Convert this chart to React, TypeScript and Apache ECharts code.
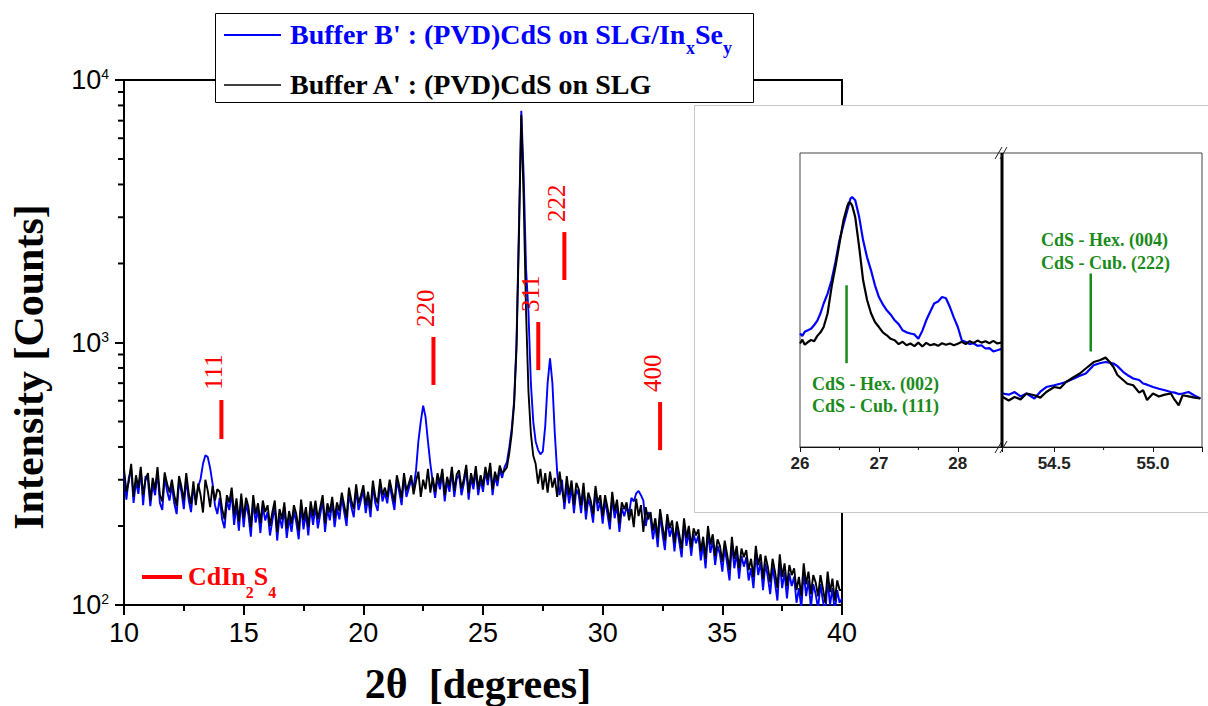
import React, { useEffect, useRef } from 'react';
import * as echarts from 'echarts';

// ---------- main pattern: 2θ from 10.0° to 40.0° every 0.1° ----------
const twoThetaStart = 10;
const twoThetaStep = 0.1;

// Buffer B' : (PVD)CdS on SLG/InxSey  (counts)
const bufferBCounts = [
  318, 252, 305, 330, 245, 296, 265, 325, 240, 310,
  300, 238, 288, 262, 322, 245, 230, 306, 272, 250,
  285, 244, 222, 296, 270, 232, 305, 252, 226, 280,
  250, 282, 302, 345, 372, 366, 332, 290, 240, 222,
  256, 212, 196, 250, 230, 268, 202, 240, 192, 252,
  198, 244, 220, 182, 250, 206, 232, 188, 238, 210,
  226, 184, 210, 238, 176, 218, 196, 234, 180, 214,
  190, 228, 206, 178, 240, 194, 224, 184, 236, 202,
  238, 196, 222, 250, 190, 232, 210, 246, 198, 234,
  212, 256, 226, 200, 268, 236, 216, 276, 230, 250,
  274, 224, 256, 216, 286, 244, 228, 290, 248, 268,
  244, 288, 256, 230, 300, 270, 240, 306, 258, 278,
  300, 280, 325, 420, 500, 575, 520, 420, 345, 295,
  256, 306, 276, 318, 248, 296, 270, 324, 258, 302,
  314, 262, 290, 330, 252, 306, 276, 326, 262, 300,
  270, 324, 286, 336, 262, 310, 284, 328, 305, 335,
  350, 400, 470, 600, 1000, 2700, 7640, 4300, 1900, 1300,
  700, 500, 420, 390, 375, 385, 480, 700, 870, 700,
  450, 320, 262, 300, 232, 286, 244, 282, 224, 276,
  262, 224, 280, 212, 254, 236, 206, 272, 228, 248,
  204, 250, 222, 194, 258, 214, 240, 190, 234, 218,
  236, 222, 256, 248, 266, 272, 262, 250, 200, 226,
  214, 178, 202, 166, 222, 186, 162, 212, 182, 198,
  160, 198, 174, 152, 204, 168, 190, 154, 186, 172,
  184, 148, 170, 138, 190, 158, 176, 142, 168, 156,
  134, 166, 144, 124, 172, 138, 158, 126, 154, 140,
  152, 124, 138, 116, 158, 130, 146, 114, 144, 128,
  110, 140, 122, 104, 146, 116, 134, 106, 132, 118,
  128, 102, 116, 97, 134, 108, 124, 98, 120, 110,
  97, 120, 104, 92, 124, 100, 116, 94, 114, 102,
  106,
];

// Buffer A' : (PVD)CdS on SLG  (counts)
const bufferACounts = [
  330, 270, 295, 345, 258, 312, 280, 336, 262, 300,
  318, 250, 305, 275, 335, 262, 248, 320, 290, 268,
  300, 262, 238, 310, 282, 250, 318, 268, 242, 296,
  240, 290, 262, 225, 300, 272, 236, 284, 250, 276,
  270, 232, 212, 262, 246, 280, 220, 255, 208, 266,
  214, 256, 236, 198, 262, 222, 244, 205, 250, 226,
  240, 200, 226, 250, 190, 232, 212, 246, 196, 228,
  204, 240, 222, 192, 252, 210, 236, 198, 248, 218,
  250, 212, 236, 262, 205, 244, 225, 258, 214, 246,
  228, 268, 240, 215, 280, 250, 232, 288, 244, 262,
  286, 240, 270, 232, 298, 258, 244, 302, 262, 280,
  258, 300, 270, 246, 312, 284, 256, 318, 272, 290,
  312, 264, 296, 322, 258, 300, 276, 330, 268, 306,
  270, 318, 290, 330, 262, 308, 284, 336, 272, 314,
  326, 278, 302, 342, 268, 318, 290, 338, 276, 312,
  284, 336, 300, 348, 276, 322, 298, 340, 318, 325,
  335, 380, 450, 580, 950, 2500, 7350, 3500, 1300, 650,
  450, 370, 345, 290, 330, 275, 318, 268, 322, 280,
  305, 258, 322, 276, 246, 310, 262, 298, 240, 292,
  276, 240, 292, 228, 268, 250, 222, 284, 244, 262,
  218, 262, 236, 208, 270, 228, 252, 204, 246, 232,
  246, 210, 232, 198, 254, 218, 240, 190, 236, 212,
  226, 192, 214, 180, 232, 200, 176, 222, 196, 210,
  172, 208, 186, 164, 214, 180, 200, 166, 196, 184,
  194, 160, 182, 150, 200, 170, 186, 154, 178, 168,
  146, 176, 156, 136, 182, 150, 168, 138, 164, 152,
  162, 136, 150, 128, 168, 142, 156, 126, 154, 140,
  122, 150, 134, 116, 156, 128, 144, 118, 142, 130,
  138, 114, 128, 108, 144, 120, 134, 110, 130, 122,
  108, 130, 116, 102, 134, 112, 126, 104, 124, 114,
  114,
];

// CdIn2S4 reference reflections
const cdIn2S4Angles = [14.07, 22.93, 27.31, 28.4, 32.4];
const cdIn2S4Hkl = ['111', '220', '311', '222', '400'];
const cdIn2S4MarkLow = [429, 689, 785, 1730, 389];
const cdIn2S4MarkHigh = [604, 1050, 1197, 2635, 593];

// log-axis minor tick values
const logMinorTicks = [200, 300, 400, 500, 600, 700, 800, 900, 2000, 3000, 4000, 5000, 6000, 7000, 8000, 9000];

// ---------- inset (relative intensity, arbitrary units 0–100) ----------
const insetLeftAngles = [
  26.0, 26.03, 26.06, 26.1, 26.14, 26.18, 26.22, 26.26, 26.3, 26.35,
  26.4, 26.45, 26.5, 26.55, 26.6, 26.62, 26.64, 26.66, 26.7, 26.75,
  26.8, 26.85, 26.9, 26.95, 27.0, 27.05, 27.1, 27.15, 27.2, 27.25,
  27.3, 27.35, 27.4, 27.45, 27.5, 27.55, 27.6, 27.65, 27.7, 27.75,
  27.8, 27.85, 27.9, 27.95, 28.0, 28.05, 28.1, 28.15, 28.2, 28.25,
  28.3, 28.35, 28.4, 28.45, 28.5, 28.56,
];
const insetLeftA = [
  35.2, 36.5, 34.8, 35.7, 36.4, 36.0, 37.8, 39.0, 40.8, 45.5,
  54.4, 61.5, 69.2, 77.0, 82.0, 83.3, 83.0, 82.2, 78.2, 68.0,
  56.7, 50.0, 45.5, 42.5, 40.8, 39.0, 38.0, 36.8, 36.3, 35.0,
  35.8, 34.6, 35.2, 34.3, 35.5, 34.2, 35.4, 34.6, 35.0, 34.4,
  35.3, 34.8, 35.2, 34.6, 35.1, 35.8, 35.0, 36.0, 35.4, 36.2,
  35.5, 36.0, 35.3, 36.1, 35.2, 35.6,
];
const insetLeftB = [
  38.6, 37.8, 39.2, 39.7, 40.2, 41.5, 43.0, 45.5, 48.8, 52.2,
  56.7, 63.0, 70.3, 75.5, 80.5, 82.5, 84.5, 85.0, 83.9, 78.2,
  70.3, 64.5, 60.1, 55.0, 51.0, 48.5, 46.5, 45.0, 43.1, 41.8,
  39.7, 39.0, 38.6, 38.3, 36.8, 39.5, 43.1, 46.0, 48.8, 49.5,
  51.0, 50.6, 47.6, 44.0, 40.8, 36.3, 35.7, 35.0, 35.3, 34.4,
  34.6, 33.5, 33.6, 32.5, 32.9, 33.4,
];
const insetRightAngles = [
  54.24, 54.27, 54.3, 54.33, 54.36, 54.4, 54.43, 54.46, 54.5, 54.53,
  54.56, 54.6, 54.63, 54.66, 54.7, 54.73, 54.76, 54.78, 54.8, 54.82,
  54.85, 54.87, 54.9, 54.93, 54.95, 54.97, 55.0, 55.03, 55.06, 55.09,
  55.11, 55.13, 55.15, 55.18, 55.21, 55.24,
];
const insetRightA = [
  17.0, 15.8, 17.0, 16.2, 18.2, 17.6, 16.8, 18.7, 20.4, 20.0,
  22.1, 23.8, 25.0, 26.7, 28.9, 29.5, 30.4, 29.0, 27.2, 24.5,
  22.7, 21.5, 21.0, 18.5, 19.3, 16.0, 18.2, 17.2, 17.8, 18.2,
  16.0, 14.2, 17.6, 17.2, 16.8, 16.5,
];
const insetRightB = [
  18.2, 17.8, 18.7, 17.2, 18.2, 16.5, 18.8, 20.4, 21.0, 21.5,
  22.1, 23.3, 24.2, 25.0, 27.8, 28.5, 28.9, 28.7, 28.4, 27.5,
  25.5, 24.5, 23.3, 22.8, 21.6, 21.2, 20.4, 19.8, 19.3, 18.7,
  18.5, 18.0, 18.2, 18.7, 17.5, 16.5,
];
const cdsHexCubLeft = [26.59, 28.5, 55];   // angle, low, high
const cdsHexCubRight = [54.685, 32.5, 59];
const insetLeftMinor = [26.5, 27.5];
const insetRightMinor = [54.75];

const SERIF = '"Liberation Serif", "Times New Roman", serif';
const SANS = '"Liberation Sans", Arial, sans-serif';
const GREEN = '#1a8a1a';

export default function App() {
  const ref = useRef<HTMLDivElement>(null);

  useEffect(() => {
    const chart = echarts.init(ref.current!, null, { renderer: 'svg' });

    const angles = bufferACounts.map((_, i) => +(twoThetaStart + i * twoThetaStep).toFixed(1));
    const dataB = angles.map((x, i) => [x, bufferBCounts[i]]);
    const dataA = angles.map((x, i) => [x, bufferACounts[i]]);

    const insetAxisCommon = {
      type: 'value',
      z: 22,
      axisLine: { show: true, lineStyle: { color: '#111', width: 1.2 } },
      axisTick: { show: true, length: 5, lineStyle: { color: '#111', width: 1 } },
      splitLine: { show: false },
    };

    const greenMark = (params: any, api: any) => {
      const a = api.coord([api.value(0), api.value(1)]);
      const b = api.coord([api.value(0), api.value(2)]);
      return {
        type: 'line',
        shape: { x1: a[0], y1: a[1], x2: b[0], y2: b[1] },
        style: { stroke: GREEN, lineWidth: 2.5 },
      };
    };
    const insetMinor = (params: any, api: any) => {
      const p = api.coord([api.value(0), 0]);
      return {
        type: 'line',
        shape: { x1: p[0], y1: p[1], x2: p[0], y2: p[1] + 3 },
        style: { stroke: '#111', lineWidth: 1 },
      };
    };

    const option: any = {
      animation: false,
      grid: [
        { left: 124, top: 80, width: 718, height: 525, show: true, borderColor: '#000', borderWidth: 2, containLabel: false },
        { left: 800, top: 153, width: 202, height: 294, show: true, borderColor: '#444', borderWidth: 1, z: 21 },
        { left: 1002, top: 153, width: 200, height: 294, show: true, borderColor: '#444', borderWidth: 1, z: 21 },
      ],
      xAxis: [
        {
          gridIndex: 0,
          type: 'value',
          min: 10,
          max: 40,
          interval: 5,
          axisLine: { show: true, lineStyle: { color: '#000', width: 2 } },
          axisTick: { show: true, length: 10, lineStyle: { color: '#000', width: 2 } },
          minorTick: { show: true, splitNumber: 2, length: 6, lineStyle: { color: '#000', width: 2 } },
          axisLabel: { fontSize: 27, fontFamily: SANS, color: '#000', margin: 14 },
          splitLine: { show: false },
        },
        {
          ...insetAxisCommon,
          gridIndex: 1,
          min: 26,
          max: 28.56,
          splitNumber: 3,
          axisLabel: {
            fontSize: 17,
            fontWeight: 'bold',
            fontFamily: SANS,
            color: '#222',
            margin: 8,
            showMaxLabel: false,
            formatter: (v: number) => (Math.abs(v - Math.round(v)) < 1e-6 ? String(Math.round(v)) : ''),
          },
        },
        {
          ...insetAxisCommon,
          gridIndex: 2,
          min: 54.236,
          max: 55.248,
          splitNumber: 2,
          axisLabel: {
            fontSize: 17,
            fontWeight: 'bold',
            fontFamily: SANS,
            color: '#222',
            margin: 8,
            formatter: (v: number) => (Math.abs(v * 2 - Math.round(v * 2)) < 1e-6 ? v.toFixed(1) : ''),
          },
        },
      ],
      yAxis: [
        {
          gridIndex: 0,
          type: 'log',
          logBase: 10,
          min: 100,
          max: 10000,
          axisLine: { show: true, lineStyle: { color: '#000', width: 2 } },
          axisTick: { show: true, length: 9, lineStyle: { color: '#000', width: 2 } },
          splitLine: { show: false },
          axisLabel: {
            margin: 15,
            formatter: (v: number) => `{b|10}{s|${Math.round(Math.log10(v))}}`,
            rich: {
              b: { fontSize: 27, fontFamily: SANS, color: '#000', lineHeight: 26, verticalAlign: 'middle' },
              s: { fontSize: 14, fontFamily: SANS, color: '#000', lineHeight: 14, verticalAlign: 'top' },
            },
          },
        },
        { gridIndex: 1, type: 'value', min: 0, max: 100, show: false },
        { gridIndex: 2, type: 'value', min: 0, max: 100, show: false },
      ],
      series: [
        {
          name: "Buffer B'",
          type: 'line',
          xAxisIndex: 0,
          yAxisIndex: 0,
          data: dataB,
          showSymbol: false,
          symbol: 'none',
          lineStyle: { color: '#0000ff', width: 1.9 },
          z: 2,
        },
        {
          name: "Buffer A'",
          type: 'line',
          xAxisIndex: 0,
          yAxisIndex: 0,
          data: dataA,
          showSymbol: false,
          symbol: 'none',
          lineStyle: { color: '#000', width: 1.9 },
          z: 2,
        },
        {
          type: 'custom',
          xAxisIndex: 0,
          yAxisIndex: 0,
          silent: true,
          z: 2,
          data: logMinorTicks.map((v) => [10, v]),
          renderItem: (params: any, api: any) => {
            const p = api.coord([api.value(0), api.value(1)]);
            return {
              type: 'line',
              shape: { x1: p[0] - 6, y1: p[1], x2: p[0], y2: p[1] },
              style: { stroke: '#000', lineWidth: 2 },
            };
          },
        },
        {
          type: 'custom',
          xAxisIndex: 0,
          yAxisIndex: 0,
          silent: true,
          z: 3,
          encode: { x: 0, y: [1, 2] },
          data: cdIn2S4Angles.map((x, i) => [x, cdIn2S4MarkLow[i], cdIn2S4MarkHigh[i]]),
          renderItem: (params: any, api: any) => {
            const lo = api.coord([api.value(0), api.value(1)]);
            const hi = api.coord([api.value(0), api.value(2)]);
            return {
              type: 'group',
              children: [
                {
                  type: 'line',
                  shape: { x1: lo[0], y1: lo[1], x2: hi[0], y2: hi[1] },
                  style: { stroke: '#ff0000', lineWidth: 4 },
                },
                {
                  type: 'text',
                  x: hi[0] - 8,
                  y: hi[1] - 10,
                  rotation: Math.PI / 2,
                  style: {
                    text: cdIn2S4Hkl[params.dataIndex],
                    fill: '#ff0000',
                    fontSize: 25,
                    fontFamily: SERIF,
                    align: 'left',
                    verticalAlign: 'middle',
                  },
                },
              ],
            };
          },
        },
        // inset series
        {
          type: 'line',
          xAxisIndex: 1,
          yAxisIndex: 1,
          data: insetLeftAngles.map((x, i) => [x, insetLeftB[i]]),
          showSymbol: false,
          symbol: 'none',
          lineStyle: { color: '#0000ff', width: 2.2 },
          z: 23,
        },
        {
          type: 'line',
          xAxisIndex: 1,
          yAxisIndex: 1,
          data: insetLeftAngles.map((x, i) => [x, insetLeftA[i]]),
          showSymbol: false,
          symbol: 'none',
          lineStyle: { color: '#000', width: 2.2 },
          z: 23,
        },
        {
          type: 'line',
          xAxisIndex: 2,
          yAxisIndex: 2,
          data: insetRightAngles.map((x, i) => [x, insetRightB[i]]),
          showSymbol: false,
          symbol: 'none',
          lineStyle: { color: '#0000ff', width: 2.2 },
          z: 23,
        },
        {
          type: 'line',
          xAxisIndex: 2,
          yAxisIndex: 2,
          data: insetRightAngles.map((x, i) => [x, insetRightA[i]]),
          showSymbol: false,
          symbol: 'none',
          lineStyle: { color: '#000', width: 2.2 },
          z: 23,
        },
        {
          type: 'custom',
          xAxisIndex: 1,
          yAxisIndex: 1,
          silent: true,
          z: 24,
          encode: { x: 0, y: [1, 2] },
          data: [cdsHexCubLeft],
          renderItem: greenMark,
        },
        {
          type: 'custom',
          xAxisIndex: 2,
          yAxisIndex: 2,
          silent: true,
          z: 24,
          encode: { x: 0, y: [1, 2] },
          data: [cdsHexCubRight],
          renderItem: greenMark,
        },
        {
          type: 'custom',
          xAxisIndex: 1,
          yAxisIndex: 1,
          silent: true,
          z: 24,
          data: insetLeftMinor.map((x) => [x, 0]),
          renderItem: insetMinor,
        },
        {
          type: 'custom',
          xAxisIndex: 2,
          yAxisIndex: 2,
          silent: true,
          z: 24,
          data: insetRightMinor.map((x) => [x, 0]),
          renderItem: insetMinor,
        },
      ],
      graphic: [
        // axis titles
        {
          type: 'text',
          x: 29,
          y: 367,
          rotation: Math.PI / 2,
          z: 5,
          style: {
            text: 'Intensity [Counts]',
            fill: '#000',
            fontSize: 42,
            fontWeight: 'bold',
            fontFamily: SERIF,
            align: 'center',
            verticalAlign: 'middle',
          },
        },
        {
          type: 'text',
          x: 478,
          y: 684,
          z: 5,
          style: {
            text: '2θ  [degrees]',
            fill: '#000',
            fontSize: 42,
            fontWeight: 'bold',
            fontFamily: SERIF,
            align: 'center',
            verticalAlign: 'middle',
          },
        },
        // CdIn2S4 key
        {
          type: 'line',
          z: 5,
          shape: { x1: 142, y1: 577, x2: 182, y2: 577 },
          style: { stroke: '#ff0000', lineWidth: 4 },
        },
        {
          type: 'text',
          x: 188,
          y: 563,
          z: 5,
          style: {
            text: '{m|CdIn}{s|2}{m|S}{s|4}',
            align: 'left',
            verticalAlign: 'top',
            rich: {
              m: { fill: '#ff0000', fontSize: 26, fontWeight: 'bold', fontFamily: SERIF, lineHeight: 37, verticalAlign: 'top' },
              s: { fill: '#ff0000', fontSize: 16, fontWeight: 'bold', fontFamily: SERIF, lineHeight: 16, verticalAlign: 'bottom' },
            },
          },
        },
        // legend box
        {
          type: 'rect',
          z: 10,
          shape: { x: 215.5, y: 13.5, width: 538, height: 89 },
          style: { fill: '#fff', stroke: '#000', lineWidth: 1 },
        },
        {
          type: 'line',
          z: 11,
          shape: { x1: 224, y1: 35, x2: 281, y2: 35 },
          style: { stroke: '#0000ff', lineWidth: 2 },
        },
        {
          type: 'line',
          z: 11,
          shape: { x1: 224, y1: 85, x2: 281, y2: 85 },
          style: { stroke: '#000', lineWidth: 1.5 },
        },
        {
          type: 'text',
          x: 290,
          y: 20,
          z: 11,
          style: {
            text: "{m|Buffer B' : (PVD)CdS on SLG/In}{s|x}{m|Se}{s|y}",
            align: 'left',
            verticalAlign: 'top',
            rich: {
              m: { fill: '#0000ff', fontSize: 28, fontWeight: 'bold', fontFamily: SERIF, lineHeight: 37, verticalAlign: 'top' },
              s: { fill: '#0000ff', fontSize: 18, fontWeight: 'bold', fontFamily: SERIF, lineHeight: 18, verticalAlign: 'bottom' },
            },
          },
        },
        {
          type: 'text',
          x: 290,
          y: 84,
          z: 11,
          style: {
            text: "Buffer A' : (PVD)CdS on SLG",
            fill: '#000',
            fontSize: 28,
            fontWeight: 'bold',
            fontFamily: SERIF,
            align: 'left',
            verticalAlign: 'middle',
          },
        },
        // inset background
        {
          type: 'rect',
          z: 20,
          shape: { x: 694.5, y: 105.5, width: 530, height: 407 },
          style: { fill: '#fff', stroke: '#c8c8c8', lineWidth: 1 },
        },
        // axis break divider
        {
          type: 'line',
          z: 25,
          shape: { x1: 1002, y1: 153, x2: 1002, y2: 447 },
          style: { stroke: '#000', lineWidth: 3 },
        },
        { type: 'line', z: 25, shape: { x1: 995, y1: 159, x2: 1002, y2: 147 }, style: { stroke: '#222', lineWidth: 1 } },
        { type: 'line', z: 25, shape: { x1: 1000, y1: 159, x2: 1007, y2: 147 }, style: { stroke: '#222', lineWidth: 1 } },
        { type: 'line', z: 25, shape: { x1: 995, y1: 453, x2: 1002, y2: 441 }, style: { stroke: '#222', lineWidth: 1 } },
        { type: 'line', z: 25, shape: { x1: 1000, y1: 453, x2: 1007, y2: 441 }, style: { stroke: '#222', lineWidth: 1 } },
        // inset annotations
        {
          type: 'text', x: 812, y: 384, z: 25,
          style: { text: 'CdS - Hex. (002)', fill: GREEN, fontSize: 18, fontWeight: 'bold', fontFamily: SERIF, align: 'left', verticalAlign: 'middle' },
        },
        {
          type: 'text', x: 812, y: 406, z: 25,
          style: { text: 'CdS - Cub. (111)', fill: GREEN, fontSize: 18, fontWeight: 'bold', fontFamily: SERIF, align: 'left', verticalAlign: 'middle' },
        },
        {
          type: 'text', x: 1041, y: 240, z: 25,
          style: { text: 'CdS - Hex. (004)', fill: GREEN, fontSize: 18, fontWeight: 'bold', fontFamily: SERIF, align: 'left', verticalAlign: 'middle' },
        },
        {
          type: 'text', x: 1041, y: 263, z: 25,
          style: { text: 'CdS - Cub. (222)', fill: GREEN, fontSize: 18, fontWeight: 'bold', fontFamily: SERIF, align: 'left', verticalAlign: 'middle' },
        },
      ],
    };

    chart.setOption(option);
    return () => chart.dispose();
  }, []);

  return (
    <div
      ref={ref}
      style={{ position: 'absolute', left: 0, top: 0, width: 1208, height: 706, background: '#fff' }}
    />
  );
}
